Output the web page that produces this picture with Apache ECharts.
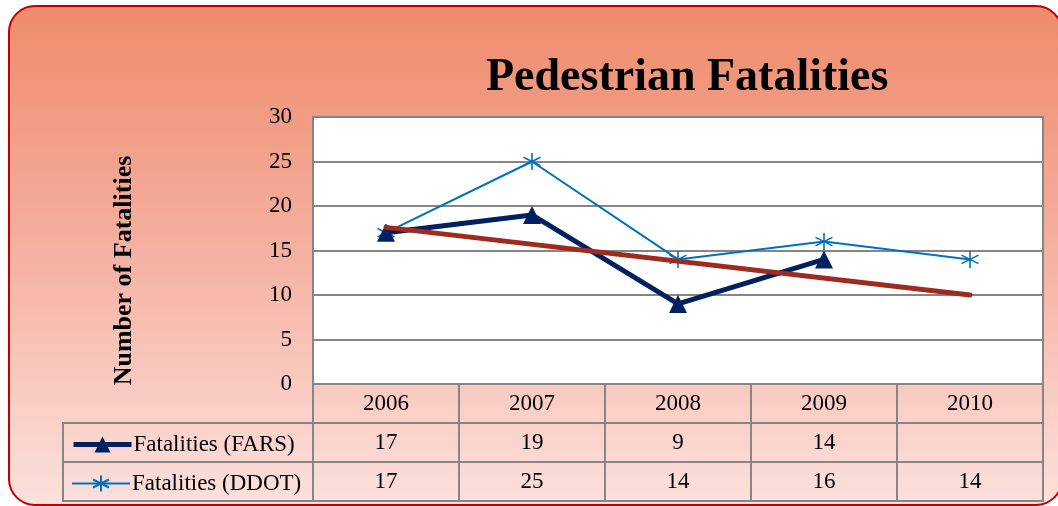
<!DOCTYPE html>
<html>
<head>
<meta charset="UTF-8">
<title>Pedestrian Fatalities</title>
<script src="https://cdn.jsdelivr.net/npm/echarts@6/dist/echarts.min.js"></script>
<style>
  html, body { margin: 0; padding: 0; background: #fff; overflow: hidden; }
  #chart { width: 1058px; height: 506px; }
</style>
</head>
<body>
<div id="chart"></div>
<script>
// data
var years = ['2006', '2007', '2008', '2009', '2010'];
var fars = [17, 19, 9, 14, null];
var ddot = [17, 25, 14, 16, 14];
// linear trend of FARS, drawn between its two end points
var trend = [17.6, null, null, null, 10.0];

var FONT = 'Liberation Serif';
var GREY = '#868686';
var chart = echarts.init(document.getElementById('chart'));

function cellText(arr) {
    return arr.map(function (v) { return v == null ? '' : String(v); });
}

// table rows under the plot, one category axis per row
function tableAxis(data, offset, labels) {
    return {
        type: 'category',
        data: data,
        position: 'bottom',
        offset: offset,
        boundaryGap: true,
        axisLine: { lineStyle: { color: GREY, width: 2 } },
        axisTick: { show: false },
        axisLabel: { show: labels, interval: 0, color: '#000', fontSize: 23, fontFamily: FONT, margin: 8 }
    };
}

var yearAxis = tableAxis(years, 0, true);
yearAxis.axisTick = { show: true, length: 117, lineStyle: { color: GREY, width: 2 } };

function legendRow(name, top, lineWidth) {
    return {
        data: [name],
        left: 66, top: top,
        itemWidth: 58, itemHeight: 20,
        itemGap: 0,
        lineStyle: { width: lineWidth },
        textStyle: { fontSize: 23, fontFamily: FONT, color: '#000', padding: [0, 0, 0, -3] }
    };
}

var option = {
    animation: false,
    textStyle: { fontFamily: FONT },
    title: {
        text: 'Pedestrian Fatalities',
        left: 481,
        top: 50,
        textStyle: { fontSize: 46, fontWeight: 'bold', fontFamily: FONT, color: '#000' }
    },
    graphic: [
        {   // rounded frame with gradient
            type: 'rect', z: -10, silent: true,
            shape: { x: 9, y: 6, width: 1053, height: 499, r: 26 },
            style: {
                fill: new echarts.graphic.LinearGradient(0, 0, 0, 1, [
                    { offset: 0, color: '#EE8B6B' },
                    { offset: 0.45, color: '#F4AD9C' },
                    { offset: 1, color: '#FCE1DD' }
                ]),
                stroke: '#C00000', lineWidth: 2
            }
        },
        {   // legend cells of the data table
            type: 'rect', z: 1, silent: true,
            shape: { x: 63, y: 423, width: 250, height: 78 },
            style: { fill: 'none', stroke: GREY, lineWidth: 2 }
        },
        {
            type: 'line', z: 1, silent: true,
            shape: { x1: 63, y1: 462, x2: 313, y2: 462 },
            style: { stroke: GREY, lineWidth: 2 }
        }
    ],
    legend: [
        legendRow('Fatalities (FARS)', 428, 5),
        legendRow('Fatalities (DDOT)', 467, 2)
    ],
    grid: {
        left: 313, right: 15, top: 117, bottom: 122,
        show: true,
        backgroundColor: '#fff',
        borderColor: GREY,
        borderWidth: 2
    },
    xAxis: [
        yearAxis,
        tableAxis(cellText(fars), 39, true),
        tableAxis(cellText(ddot), 78, true),
        tableAxis(years, 117, false)
    ],
    yAxis: {
        type: 'value',
        min: 0, max: 30, interval: 5,
        name: 'Number of Fatalities',
        nameLocation: 'middle',
        nameRotate: 90,
        nameGap: 176,
        nameTextStyle: { fontSize: 26, fontWeight: 'bold', fontFamily: FONT, color: '#000', padding: [0, 40, 0, 0] },
        axisLine: { show: true, lineStyle: { color: GREY, width: 2 } },
        axisTick: { show: false },
        axisLabel: { color: '#000', fontSize: 23, fontFamily: FONT, margin: 21 },
        splitLine: { lineStyle: { color: GREY, width: 2 } }
    },
    series: [
        {
            name: 'Fatalities (FARS)',
            type: 'line',
            data: fars,
            symbol: 'triangle',
            symbolSize: 18,
            z: 3,
            lineStyle: { color: '#002060', width: 5 },
            itemStyle: { color: '#002060' }
        },
        {
            name: 'Fatalities (DDOT)',
            type: 'line',
            data: ddot,
            symbol: 'path://M10,0L10,20M1.34,5L18.66,15M1.34,15L18.66,5',
            symbolSize: 17,
            z: 2,
            lineStyle: { color: '#0070C0', width: 2 },
            itemStyle: { color: '#0070C0', borderColor: '#0070C0', borderWidth: 1.6 }
        },
        {
            name: 'Trend',
            type: 'line',
            data: trend,
            connectNulls: true,
            symbol: 'none',
            z: 4,
            lineStyle: { color: '#9E2B1E', width: 5, cap: 'round' }
        }
    ]
};
chart.setOption(option);
</script>
</body>
</html>
